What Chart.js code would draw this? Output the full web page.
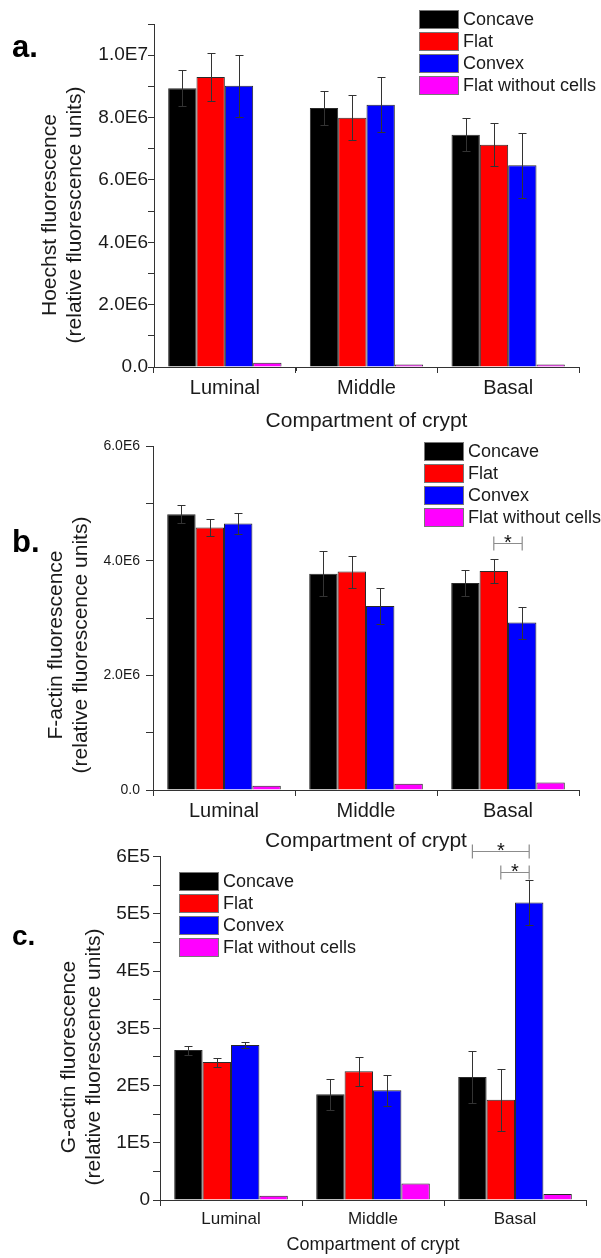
<!DOCTYPE html>
<html>
<head>
<meta charset="utf-8">
<script src="https://cdn.jsdelivr.net/npm/chart.js@4.4.1/dist/chart.umd.min.js"></script>
<style>
  html, body { margin: 0; padding: 0; background: #fff; }
  #wrap { position: relative; width: 601px; height: 1258px; }
  #wrap canvas { position: absolute; left: 0; top: 0; }
</style>
</head>
<body>
<div id="wrap">
  <canvas id="chartA" width="601" height="1258"></canvas>
  <canvas id="chartB" width="601" height="1258"></canvas>
  <canvas id="chartC" width="601" height="1258"></canvas>
</div>
<script>
const categories = ['Luminal', 'Middle', 'Basal'];
const seriesNames = ['Concave', 'Flat', 'Convex', 'Flat without cells'];
const seriesColors = ['#000000', '#ff0000', '#0000ff', '#ff00ff'];

// a. Hoechst (rows = series, columns = compartments)
const hoechstMeans = [
  [8.94e6, 8.31e6, 7.45e6],
  [9.30e6, 7.99e6, 7.13e6],
  [9.02e6, 8.41e6, 6.47e6],
  [0.14e6, 0.08e6, 0.08e6]
];
const hoechstErrors = [
  [0.58e6, 0.54e6, 0.53e6],
  [0.78e6, 0.72e6, 0.69e6],
  [1.00e6, 0.88e6, 1.04e6],
  [0, 0, 0]
];
const hoechstTicks = ['0.0', '2.0E6', '4.0E6', '6.0E6', '8.0E6', '1.0E7'];

// b. F-actin
const factinMeans = [
  [4.81e6, 3.77e6, 3.61e6],
  [4.58e6, 3.81e6, 3.82e6],
  [4.65e6, 3.21e6, 2.92e6],
  [0.075e6, 0.11e6, 0.13e6]
];
const factinErrors = [
  [0.16e6, 0.39e6, 0.23e6],
  [0.15e6, 0.28e6, 0.21e6],
  [0.18e6, 0.32e6, 0.28e6],
  [0, 0, 0]
];
const factinTicks = ['0.0', '2.0E6', '4.0E6', '6.0E6'];
const factinSig = [{ cat: 2, from: 1, to: 2, at: 4.3e6 }];

// c. G-actin
const gactinMeans = [
  [2.62e5, 1.85e5, 2.15e5],
  [2.41e5, 2.25e5, 1.75e5],
  [2.71e5, 1.92e5, 5.20e5],
  [0.075e5, 0.29e5, 0.105e5]
];
const gactinErrors = [
  [0.08e5, 0.27e5, 0.46e5],
  [0.08e5, 0.25e5, 0.54e5],
  [0.05e5, 0.27e5, 0.40e5],
  [0, 0, 0]
];
const gactinTicks = ['0', '1E5', '2E5', '3E5', '4E5', '5E5', '6E5'];
const gactinSig = [
  { cat: 2, from: 0, to: 2, at: 6.1e5 },
  { cat: 2, from: 1, to: 2, at: 5.73e5 }
];

const fam = "'Liberation Sans', Arial, sans-serif";
const textColor = '#1a1a1a';
const axisColor = '#333';

function panelPlugin(p) {
  return {
    id: 'panelExtras',
    afterDatasetsDraw(chart) {
      const ctx = chart.ctx, y = chart.scales.y;
      ctx.save();
      ctx.strokeStyle = '#333';
      ctx.lineWidth = 1;
      chart.data.datasets.forEach((ds, i) => {
        chart.getDatasetMeta(i).data.forEach((bar, j) => {
          const e = ds.errors[j];
          if (!e) return;
          const x = Math.round(bar.x) + 0.5;
          const yt = Math.round(y.getPixelForValue(ds.data[j] + e)) + 0.5;
          const yb = Math.round(y.getPixelForValue(ds.data[j] - e)) + 0.5;
          ctx.beginPath();
          ctx.moveTo(x, yt); ctx.lineTo(x, yb);
          ctx.moveTo(x - 4, yt); ctx.lineTo(x + 4, yt);
          ctx.moveTo(x - 4, yb); ctx.lineTo(x + 4, yb);
          ctx.stroke();
        });
      });
      ctx.restore();
    },
    afterDraw(chart) {
      const ctx = chart.ctx, xs = chart.scales.x, ys = chart.scales.y;
      ctx.save();

      // minor ticks at category boundaries
      ctx.strokeStyle = axisColor;
      ctx.lineWidth = 1;
      const n = categories.length;
      for (let i = 1; i <= n; i++) {
        const x = Math.round(xs.left + i * (xs.right - xs.left) / n) + 0.5;
        ctx.beginPath();
        ctx.moveTo(x, xs.top);
        ctx.lineTo(x, xs.top + 4);
        ctx.stroke();
      }

      // legend
      ctx.font = '18px ' + fam;
      ctx.textBaseline = 'middle';
      ctx.textAlign = 'left';
      chart.data.datasets.forEach((ds, i) => {
        const top = p.legend.y + i * 22;
        ctx.fillStyle = ds.backgroundColor;
        ctx.fillRect(p.legend.x, top, 40, 19);
        ctx.strokeStyle = '#777';
        ctx.strokeRect(p.legend.x + 0.5, top + 0.5, 39, 18);
        ctx.fillStyle = textColor;
        ctx.fillText(ds.label, p.legend.x + 44, top + 10);
      });

      // y axis title (two lines)
      ctx.font = '21px ' + fam;
      ctx.textAlign = 'center';
      p.yTitle.forEach((line, i) => {
        ctx.save();
        ctx.translate(p.yTitleX[i], p.yTitleY);
        ctx.rotate(-Math.PI / 2);
        ctx.fillText(line, 0, 0);
        ctx.restore();
      });

      // panel letter
      ctx.font = 'bold ' + p.letterSize + 'px ' + fam;
      ctx.textAlign = 'left';
      ctx.textBaseline = 'alphabetic';
      ctx.fillStyle = '#000';
      ctx.fillText(p.letter, 12, p.letterY);

      // significance brackets
      (p.sig || []).forEach(s => {
        const x1 = chart.getDatasetMeta(s.from).data[s.cat].x;
        const x2 = chart.getDatasetMeta(s.to).data[s.cat].x;
        const yy = Math.round(ys.getPixelForValue(s.at)) + 0.5;
        ctx.strokeStyle = '#8c8c8c';
        ctx.lineWidth = 1.2;
        ctx.beginPath();
        ctx.moveTo(x1, yy); ctx.lineTo(x2, yy);
        ctx.moveTo(x1, yy - 7); ctx.lineTo(x1, yy + 7);
        ctx.moveTo(x2, yy - 7); ctx.lineTo(x2, yy + 7);
        ctx.stroke();
        ctx.font = '20px ' + fam;
        ctx.textAlign = 'center';
        ctx.fillStyle = '#111';
        ctx.fillText('*', (x1 + x2) / 2, yy + 5);
      });
      ctx.restore();
    }
  };
}

function makePanel(id, p) {
  const datasets = seriesNames.map((name, i) => ({
    label: name,
    data: p.means[i],
    errors: p.errors[i],
    backgroundColor: seriesColors[i],
    borderColor: '#2a2a2a',
    borderWidth: 1,
    categoryPercentage: 0.8,
    barPercentage: 1.0
  }));
  const xBoxH = p.xTitleY + p.xTitleSize * 0.6 - p.area.bottom;
  return new Chart(document.getElementById(id), {
    type: 'bar',
    data: { labels: categories, datasets: datasets },
    options: {
      responsive: false,
      animation: false,
      events: [],
      layout: {
        padding: {
          left: 0,
          right: 601 - p.area.right,
          top: p.area.top,
          bottom: 1258 - p.area.bottom - xBoxH
        }
      },
      plugins: { legend: { display: false }, tooltip: { enabled: false } },
      scales: {
        x: {
          grid: { drawOnChartArea: false, tickLength: 6, color: axisColor },
          border: { color: axisColor, width: 1 },
          ticks: { color: textColor, font: { family: fam, size: p.xTickSize }, padding: 3 },
          title: {
            display: true, text: 'Compartment of crypt', color: textColor,
            font: { family: fam, size: p.xTitleSize }, padding: 0
          },
          afterFit: s => { s.height = xBoxH; }
        },
        y: {
          min: 0,
          max: p.max,
          grid: { drawOnChartArea: false, tickLength: p.yTickLen, color: axisColor },
          border: { color: axisColor, width: 1 },
          ticks: {
            stepSize: p.minor,
            autoSkip: false,
            padding: p.yTickPad,
            color: textColor,
            font: { family: fam, size: p.yTickSize },
            callback: v => {
              const k = Math.round(v / p.major);
              return Math.abs(v - k * p.major) < p.minor / 10 ? p.ticks[k] : '';
            }
          },
          afterFit: s => { s.width = p.area.left; }
        }
      }
    },
    plugins: [panelPlugin(p)]
  });
}

makePanel('chartA', {
  means: hoechstMeans, errors: hoechstErrors, ticks: hoechstTicks,
  max: 1.1e7, major: 2e6, minor: 1e6,
  area: { left: 154, right: 579, top: 24, bottom: 367 },
  xTitleY: 421.5, xTitleSize: 21, xTickSize: 20,
  yTickSize: 19, yTickLen: 6, yTickPad: 0,
  legend: { x: 419, y: 10 },
  yTitle: ['Hoechst fluorescence', '(relative fluorescence units)'],
  yTitleX: [50, 75], yTitleY: 215,
  letter: 'a.', letterSize: 31, letterY: 57
});

makePanel('chartB', {
  means: factinMeans, errors: factinErrors, ticks: factinTicks, sig: factinSig,
  max: 6e6, major: 2e6, minor: 1e6,
  area: { left: 153, right: 579, top: 446, bottom: 790 },
  xTitleY: 841.5, xTitleSize: 21, xTickSize: 20,
  yTickSize: 14, yTickLen: 7, yTickPad: 6,
  legend: { x: 424, y: 442 },
  yTitle: ['F-actin fluorescence', '(relative fluorescence units)'],
  yTitleX: [56, 81], yTitleY: 645,
  letter: 'b.', letterSize: 31, letterY: 552
});

makePanel('chartC', {
  means: gactinMeans, errors: gactinErrors, ticks: gactinTicks, sig: gactinSig,
  max: 6e5, major: 1e5, minor: 5e4,
  area: { left: 160, right: 586, top: 856.7, bottom: 1200 },
  xTitleY: 1245, xTitleSize: 18, xTickSize: 17,
  yTickSize: 19, yTickLen: 7, yTickPad: 3,
  legend: { x: 179, y: 872 },
  yTitle: ['G-actin fluorescence', '(relative fluorescence units)'],
  yTitleX: [69, 94], yTitleY: 1057,
  letter: 'c.', letterSize: 28, letterY: 945
});
</script>
</body>
</html>
